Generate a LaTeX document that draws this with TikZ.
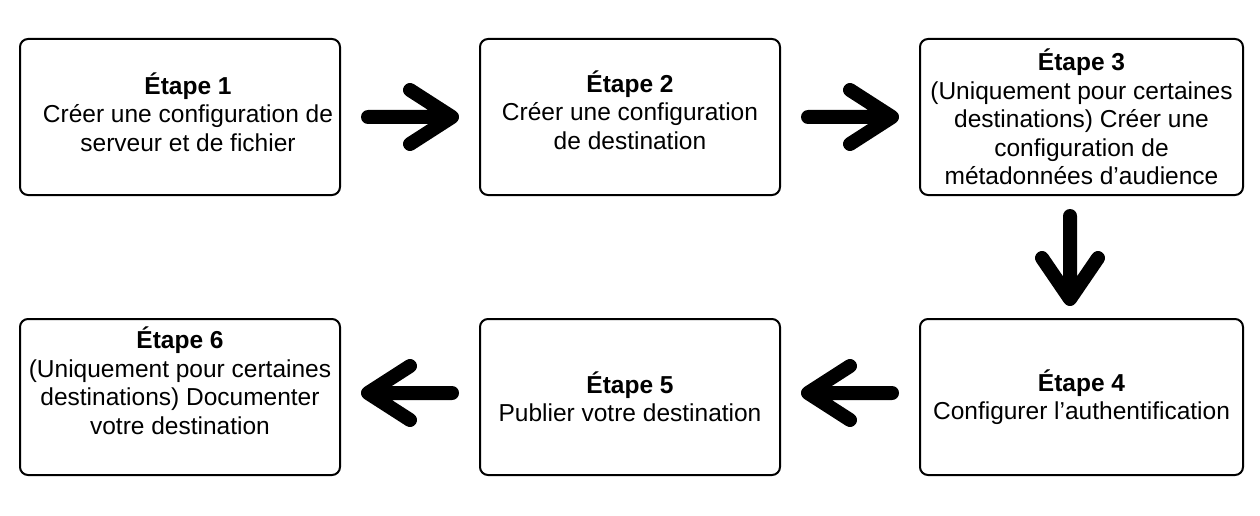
\documentclass[tikz,border=0pt]{standalone}
\usepackage{fontspec}
\setmainfont{Liberation Sans}
\usepackage{tikz}
\usetikzlibrary{calc}

\tikzset{
  texte/.style={align=center, inner sep=0pt, font=\fontsize{24.5}{28.5}\selectfont},
  boite/.style={texte, draw, line width=2pt, rounded corners=8pt, minimum height=156pt},
  fleche/.style={line width=14pt, line cap=round, line join=round}
}

\begin{document}
\begin{tikzpicture}[x=1pt,y=-1pt]
\useasboundingbox (0,0) rectangle (1260,516);
% top row
\node[boite, minimum width=320pt] (e1) at (180,117) {};
\node[texte] (t1) at (188,112) {\textbf{Étape 1}\\Créer une configuration de\\serveur et de fichier};
\node[boite, minimum width=300pt] (e2) at (630,117) {};
\node[texte] (t2) at (630,110) {\textbf{Étape 2}\\Créer une configuration\\de destination};
\node[boite, minimum width=323pt] (e3) at (1081.5,117) {\textbf{Étape 3}\\(Uniquement pour certaines\\destinations) Créer une\\configuration de\\métadonnées d’audience};
% bottom row
\node[boite, minimum width=323pt] (e4) at (1081.5,397) {\textbf{Étape 4}\\Configurer l’authentification};
\node[boite, minimum width=300pt] (e5) at (630,397) {\textbf{Étape 5}\\Publier votre destination};
\node[boite, minimum width=320pt] (e6) at (180,397) {};
\node[texte] (t6) at (180,381) {\textbf{Étape 6}\\(Uniquement pour certaines\\destinations) Documenter\\votre destination};
% arrows
\draw[fleche] ($(e1.east)+(27,0)$) -- ($(e2.west)+(-27,0)$) -- +(-42,-27) ($(e2.west)+(-27,0)$) -- +(-42,27);
\draw[fleche] ($(e2.east)+(27,0)$) -- ($(e3.west)+(-27,0)$) -- +(-42,-27) ($(e3.west)+(-27,0)$) -- +(-42,27);
\draw[fleche] ($(e3.south)+(-11.5,20)$) -- ($(e4.north)+(-11.5,-19)$) -- +(-28,-41) ($(e4.north)+(-11.5,-19)$) -- +(28,-41);
\draw[fleche] ($(e4.west)+(-27,-4)$) -- ($(e5.east)+(27,-4)$) -- +(42,-27) ($(e5.east)+(27,-4)$) -- +(42,27);
\draw[fleche] ($(e5.west)+(-27,-4)$) -- ($(e6.east)+(27,-4)$) -- +(42,-27) ($(e6.east)+(27,-4)$) -- +(42,27);
\end{tikzpicture}
\end{document}
